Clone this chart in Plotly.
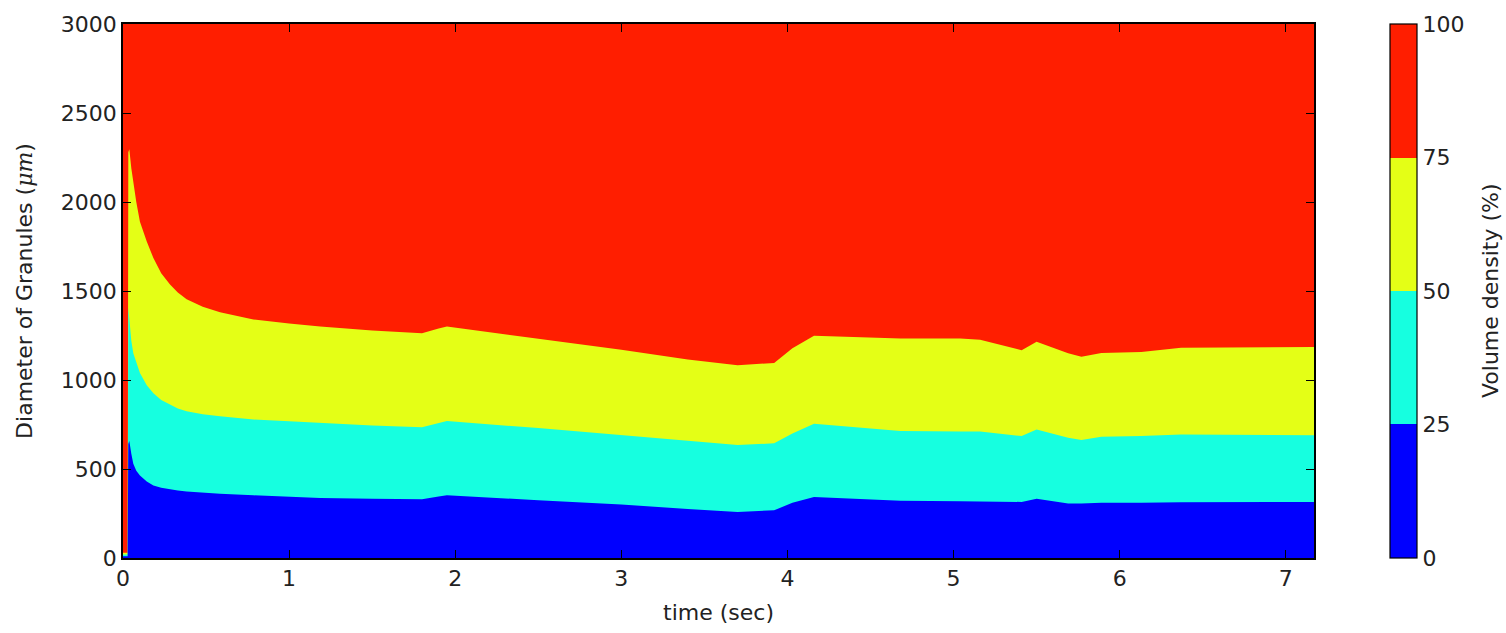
import plotly.graph_objects as go

# time (sec)
t = [0.000, 0.028, 0.032, 0.038, 0.050, 0.062, 0.080, 0.102, 0.143, 0.183,
     0.230, 0.283, 0.330, 0.383, 0.480, 0.584, 0.785, 1.000, 1.187, 1.500,
     1.800, 1.900, 1.950, 2.500, 3.000, 3.400, 3.700, 3.920, 4.030, 4.160,
     4.680, 5.040, 5.160, 5.410, 5.500, 5.690, 5.770, 5.890, 6.130, 6.370,
     7.170]

# diameter (um) at which cumulative volume density reaches 25 %, 50 %, 75 %
d25 = [10, 10, 640, 657, 585, 530, 490, 463, 430, 407,
       395, 385, 379, 374, 367, 361, 352, 345, 337, 333,
       330, 345, 352, 325, 300, 275, 259, 268, 310, 343,
       322, 319, 317, 315, 333, 306, 306, 311, 311, 313,
       315]
d50 = [20, 20, 1407, 1330, 1220, 1150, 1095, 1040, 970, 926,
       888, 861, 840, 824, 808, 796, 778, 768, 759, 745,
       735, 760, 769, 730, 690, 655, 635, 644, 700, 754,
       713, 711, 711, 685, 722, 675, 663, 681, 685, 694,
       690]
d75 = [30, 30, 2280, 2296, 2190, 2111, 2000, 1889, 1778, 1685,
       1600, 1537, 1492, 1454, 1412, 1380, 1340, 1318, 1300, 1278,
       1262, 1290, 1300, 1232, 1170, 1115, 1083, 1096, 1178, 1248,
       1233, 1233, 1226, 1167, 1215, 1150, 1130, 1152, 1157, 1181,
       1185]

levels = [0, 25, 50, 75, 100]
colors = ["#0000FF", "#16FFE0", "#E4FF16", "#FF1E00"]  # 0-25, 25-50, 50-75, 75-100
x_ticks = [0, 1, 2, 3, 4, 5, 6, 7]
y_ticks = [0, 500, 1000, 1500, 2000, 2500, 3000]

FONT = "DejaVu Sans"
fig = go.Figure()

# filled bands (drawn top band first, each lower band overlays)
for bound, col in [(d75, colors[2]), (d50, colors[1]), (d25, colors[0])]:
    fig.add_trace(go.Scatter(x=t, y=bound, mode="lines", line=dict(width=0, color=col),
                             fill="tozeroy", fillcolor=col, hoverinfo="skip",
                             showlegend=False))

# colorbar
cs = []
for i, c in enumerate(colors):
    cs.append([levels[i] / 100, c])
    cs.append([levels[i + 1] / 100, c])
fig.add_trace(go.Scatter(
    x=[1], y=[-1000], mode="markers", hoverinfo="skip", showlegend=False,
    marker=dict(size=1, color=[50], cmin=0, cmax=100, colorscale=cs, opacity=0,
                showscale=True,
                colorbar=dict(thickness=27, thicknessmode="pixels", len=1, lenmode="fraction",
                              x=1.0638, xanchor="left", y=0.5, yanchor="middle",
                              xpad=0, ypad=0, outlinewidth=1.2, outlinecolor="black",
                              tickvals=levels, ticks="", ticklabelposition="outside",
                              tickfont=dict(family=FONT, size=22, color="#222")))))

fig.add_annotation(text="Volume density (%)", xref="paper", yref="paper",
                   x=(1490 - 123) / 1191, y=0.5, textangle=-90, showarrow=False,
                   xanchor="center", yanchor="middle",
                   font=dict(family=FONT, size=22, color="#222"))

axis_common = dict(showgrid=False, zeroline=False, showline=True, linecolor="black",
                   linewidth=1.5, mirror="allticks", ticks="inside", ticklen=8,
                   tickcolor="black", tickwidth=1.2,
                   tickfont=dict(family=FONT, size=22, color="#222"))

fig.update_layout(
    width=1506, height=633,
    margin=dict(l=123, r=192, t=20, b=73),
    paper_bgcolor="white", plot_bgcolor=colors[3],
    font=dict(family=FONT, size=22, color="#222"),
    xaxis=dict(range=[0, 7.17], tickvals=x_ticks,
               title=dict(text="time (sec)", font=dict(family=FONT, size=22), standoff=14),
               **axis_common),
    yaxis=dict(range=[0, 3000], tickvals=y_ticks,
               title=dict(text="Diameter of Granules (<span style=\"font-family:DejaVu Serif\"><i>μm</i></span>)",
                          font=dict(family=FONT, size=22), standoff=22),
               **axis_common),
)

fig.write_html("out.html")
